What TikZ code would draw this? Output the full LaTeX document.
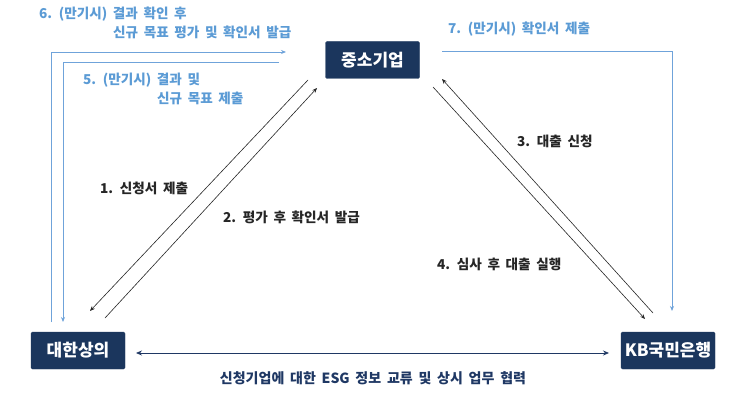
\documentclass[tikz,border=0pt]{standalone}
\usepackage{fontspec}
\setmainfont[WordSpace=1.8]{Noto Sans CJK KR}
\usetikzlibrary{arrows.meta}
\definecolor{navy}{HTML}{1B365D}
\definecolor{lblue}{HTML}{6FA3DA}
\definecolor{tblue}{HTML}{5B9BD5}
\definecolor{esgc}{HTML}{1F3864}
\tikzset{
  orgbox/.style={draw=navy, fill=navy, rounded corners=1.5pt, minimum width=94pt, minimum height=37pt, inner sep=0pt, text=white, font=\fontsize{17}{19}\selectfont\bfseries},
  blk/.style={draw=black!85, line width=0.6pt, -{Stealth[length=5pt,width=4pt]}},
  blu/.style={draw=lblue, line width=0.9pt, -{Stealth[length=5pt,width=4pt]}},
  blabel/.style={font=\fontsize{13.6}{15}\selectfont\bfseries, text=black!85, inner sep=0pt},
  ulabel/.style={font=\fontsize{13.6}{15}\selectfont\bfseries, text=tblue, inner sep=0pt, anchor=west},
}
\begin{document}
\begin{tikzpicture}[x=1pt,y=-1pt]
\useasboundingbox[fill=white] (0,0) rectangle (730,414);
% boxes
\node[orgbox] (sme) at (372.5,60) {중소기업};
\node[orgbox] (kcci) at (78,350.5) {대한상의};
\node[orgbox] (kb) at (668,350.5) {KB국민은행};
% coordinates
\coordinate (a1s) at (308,80);  \coordinate (a1e) at (90,311);
\coordinate (a2s) at (105,318); \coordinate (a2e) at (317,88);
\coordinate (a3s) at (653,313); \coordinate (a3e) at (442,79);
\coordinate (a4s) at (433,87);  \coordinate (a4e) at (645,319);
\coordinate (a5s) at (279,62);  \coordinate (a5c) at (63,62);  \coordinate (a5e) at (63,322);
\coordinate (a6s) at (51,322);  \coordinate (a6c) at (51,52);  \coordinate (a6e) at (286,52);
\coordinate (a7s) at (442,51);  \coordinate (a7c) at (672,51); \coordinate (a7e) at (672,311);
\coordinate (hl) at (136,353);  \coordinate (hr) at (609,353);
% black diagonals
\draw[blk] (a1s) -- (a1e);
\draw[blk] (a2s) -- (a2e);
\draw[blk] (a3s) -- (a3e);
\draw[blk] (a4s) -- (a4e);
% blue paths
\draw[blu] (a5s) -- (a5c) -- (a5e);
\draw[blu] (a6s) -- (a6c) -- (a6e);
\draw[blu] (a7s) -- (a7c) -- (a7e);
% horizontal
\draw[draw=esgc, line width=0.8pt, {Stealth[length=6pt,width=5pt]}-{Stealth[length=6pt,width=5pt]}] (hl) -- (hr);
% labels
\node[blabel, anchor=west] (l1) at (100,188) {1. 신청서 제출};
\node[blabel, anchor=west] (l2) at (223,217) {2. 평가 후 확인서 발급};
\node[blabel, anchor=west] (l3) at (517,141) {3. 대출 신청};
\node[blabel, anchor=west] (l4) at (437,264) {4. 심사 후 대출 실행};
\node[ulabel] (l6a) at (39,14) {6. (만기시) 결과 확인 후};
\node[ulabel] (l6b) at (113,32) {신규 목표 평가 및 확인서 발급};
\node[ulabel] (l5a) at (83,80) {5. (만기시) 결과 및};
\node[ulabel] (l5b) at (157,98) {신규 목표 제출};
\node[ulabel] (l7) at (448,29) {7. (만기시) 확인서 제출};
\node[font=\fontsize{14}{16}\selectfont\bfseries, text=esgc, inner sep=0pt] (esg) at (373,378) {신청기업에 대한 ESG 정보 교류 및 상시 업무 협력};
\end{tikzpicture}
\end{document}
